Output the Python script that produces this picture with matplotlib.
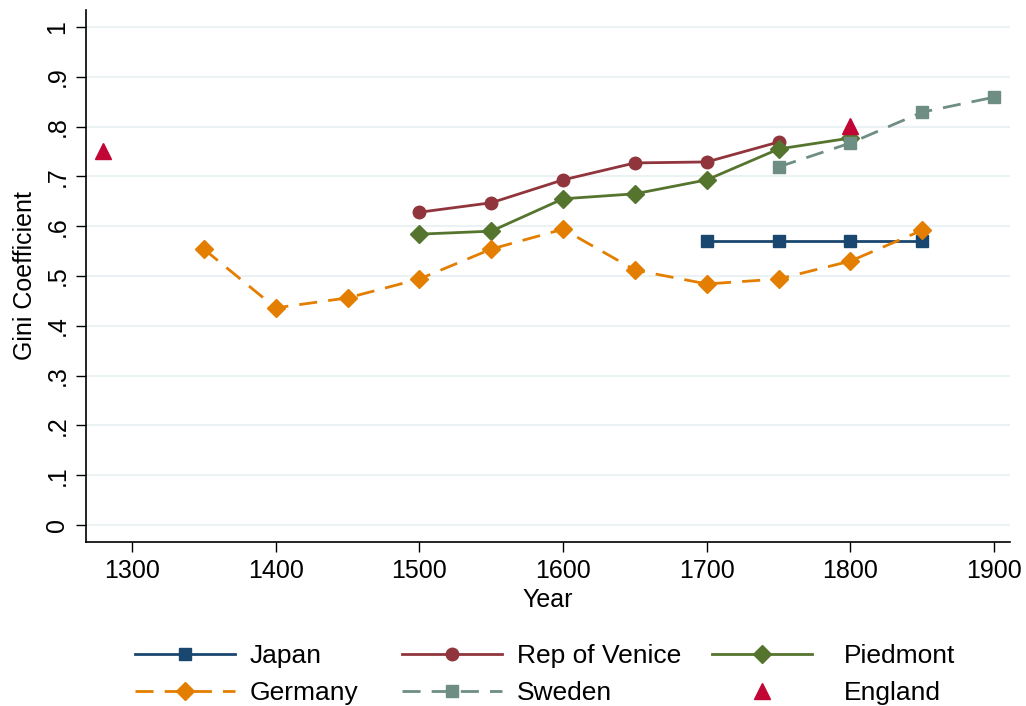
import matplotlib
matplotlib.use("Agg")
import matplotlib.pyplot as plt

plt.rcParams['font.family'] = ['Liberation Sans', 'DejaVu Sans']

# Gini coefficient estimates by country
japan_years = [1700, 1750, 1800, 1850]
japan_gini = [0.570, 0.570, 0.570, 0.570]

venice_years = [1500, 1550, 1600, 1650, 1700, 1750]
venice_gini = [0.628, 0.647, 0.693, 0.727, 0.729, 0.769]

piedmont_years = [1500, 1550, 1600, 1650, 1700, 1750, 1800]
piedmont_gini = [0.584, 0.590, 0.655, 0.665, 0.693, 0.755, 0.777]

germany_years = [1350, 1400, 1450, 1500, 1550, 1600, 1650, 1700, 1750, 1800, 1850]
germany_gini = [0.554, 0.436, 0.456, 0.494, 0.554, 0.594, 0.512, 0.484, 0.494, 0.530, 0.592]

sweden_years = [1750, 1800, 1850, 1900]
sweden_gini = [0.719, 0.767, 0.829, 0.859]

england_years = [1280, 1800]
england_gini = [0.75, 0.801]

x_ticks = [1300, 1400, 1500, 1600, 1700, 1800, 1900]
y_ticks = [0, 0.1, 0.2, 0.3, 0.4, 0.5, 0.6, 0.7, 0.8, 0.9, 1.0]
y_tick_labels = ['0', '.1', '.2', '.3', '.4', '.5', '.6', '.7', '.8', '.9', '1']

W, H = 1026, 706
fig = plt.figure(figsize=(W / 100, H / 100), dpi=100)
ax = fig.add_axes([86 / W, 1 - 542 / H, (1010 - 86) / W, (542 - 10) / H])

for y in y_ticks:
    ax.axhline(y, color='#eaf2f3', lw=1.5, zorder=0)

dash = (0, (6.5, 4))
h_japan, = ax.plot(japan_years, japan_gini, color='#1a476f', lw=2, marker='s', ms=9, label='Japan')
h_venice, = ax.plot(venice_years, venice_gini, color='#90353b', lw=2, marker='o', ms=9, label='Rep of Venice')
h_piedmont, = ax.plot(piedmont_years, piedmont_gini, color='#55752f', lw=2, marker='D', ms=9.5, label='Piedmont')
h_germany, = ax.plot(germany_years, germany_gini, color='#e37e00', lw=2, ls=dash, marker='D', ms=9.5, label='Germany')
h_sweden, = ax.plot(sweden_years, sweden_gini, color='#6e8e84', lw=2, ls=dash, marker='s', ms=9, label='Sweden')
h_england, = ax.plot(england_years, england_gini, color='#c10534', lw=0, marker='^', ms=11, label='England')

ax.set_xlim(1268, 1911)
ax.set_ylim(-0.034, 1.034)
ax.set_xticks(x_ticks)
ax.set_yticks(y_ticks)
ax.set_yticklabels(y_tick_labels, rotation=90, va='center')
ax.tick_params(labelsize=18, length=7, width=1, direction='out', color='black', pad=5)
ax.set_xlabel('Year', fontsize=18, labelpad=4)
ax.set_ylabel('Gini Coefficient', fontsize=18, labelpad=6)

for side in ['top', 'right']:
    ax.spines[side].set_visible(False)
for side in ['left', 'bottom']:
    ax.spines[side].set_linewidth(1.2)

# legend: three columns placed under the plot
columns = [([h_japan, h_germany], 135, 0.55),
           ([h_venice, h_sweden], 402, 0.55),
           ([h_piedmont, h_england], 712, 1.2)]
for hs, x0, pad in columns:
    fig.legend(hs, [h.get_label() for h in hs], loc='upper left',
               bbox_to_anchor=(x0 / W, 1 - 644 / H), frameon=False,
               fontsize=19, handlelength=3.8, handletextpad=pad,
               labelspacing=0.5, borderpad=0, borderaxespad=0)

fig.savefig('out.png', dpi=100)
